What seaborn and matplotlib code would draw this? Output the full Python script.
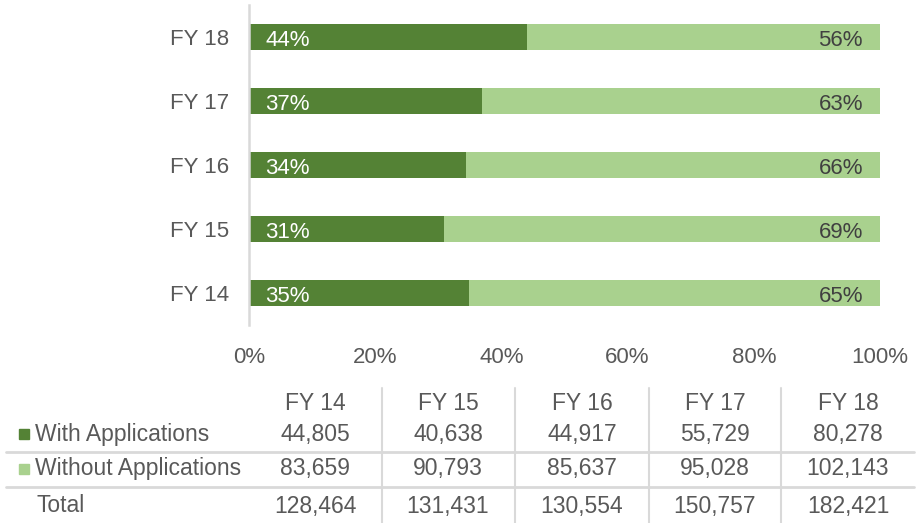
import numpy as np
import pandas as pd
import seaborn as sns
import matplotlib.pyplot as plt
from matplotlib.patches import Rectangle

# data
years = ['FY 14', 'FY 15', 'FY 16', 'FY 17', 'FY 18']
with_apps = [44805, 40638, 44917, 55729, 80278]
without_apps = [83659, 90793, 85637, 95028, 102143]
totals = [128464, 131431, 130554, 150757, 182421]
series_names = ['With Applications', 'Without Applications']
x_ticks = [0, 20, 40, 60, 80, 100]

dark = '#548235'
light = '#A9D18E'
grey = '#595959'
rule = '#D9D9D9'

df = pd.DataFrame({'year': years, 'with': with_apps, 'without': without_apps, 'total': totals})
df['pct_with'] = df['with'] / df['total'] * 100
df['pct_without'] = df['without'] / df['total'] * 100
df['stack'] = df['pct_with'] + df['pct_without']
order = years[::-1]

sns.set_theme(style='white')
plt.rcParams['font.family'] = ['Liberation Sans', 'DejaVu Sans']

fig = plt.figure(figsize=(9.2, 5.23), dpi=100)
ax = fig.add_axes([249 / 920, 1 - 325 / 523, 631 / 920, 320 / 523])

sns.barplot(data=df, x='stack', y='year', order=order, color=light, width=0.41,
            saturation=1, orient='h', linewidth=0, ax=ax)
sns.barplot(data=df, x='pct_with', y='year', order=order, color=dark, width=0.41,
            saturation=1, orient='h', linewidth=0, ax=ax)

for i, yr in enumerate(order):
    row = df[df['year'] == yr].iloc[0]
    ax.text(2.6, i + 0.145, f"{row['pct_with']:.0f}%", ha='left', va='baseline',
            color='white', fontsize=16)
    ax.text(97.3, i + 0.145, f"{row['pct_without']:.0f}%", ha='right', va='baseline',
            color='#404040', fontsize=16)

ax.set_xlim(0, 100)
ax.set_ylim(4.5, -0.5)
ax.set_xticks(x_ticks)
ax.set_xticklabels([f'{t}%' for t in x_ticks])
ax.set_xlabel('')
ax.set_ylabel('')
ax.tick_params(axis='x', length=0, pad=16, labelsize=16, labelcolor=grey)
ax.tick_params(axis='y', length=0, pad=14, labelsize=16, labelcolor=grey)
sns.despine(ax=ax, left=False, bottom=True, top=True, right=True)
ax.spines['left'].set_color(rule)
ax.spines['left'].set_linewidth(1.8)
ax.grid(False)

# data table under the chart, drawn in pixel space
tab = fig.add_axes([0, 0, 1, 1])
tab.set_xlim(0, 920)
tab.set_ylim(523, 0)
tab.axis('off')

fs = 16.5
col_centers = [315, 448, 582, 715, 848]
for xv in [382, 515, 649, 781]:
    tab.plot([xv, xv], [388, 523], color=rule, lw=1.5)
for yv in [452, 487]:
    tab.plot([6, 914], [yv, yv], color=rule, lw=2)

for xc, yr in zip(col_centers, years):
    tab.text(xc, 403, yr, ha='center', va='center', fontsize=fs, color=grey)

rows = [(series_names[0], with_apps, dark, 434),
        (series_names[1], without_apps, light, 469),
        ('Total', totals, None, 506)]
for name, vals, col, yc in rows:
    if col is not None:
        tab.add_patch(Rectangle((19, yc - 5), 10, 10, color=col))
        tab.text(35, yc, name, ha='left', va='center', fontsize=fs, color=grey)
    else:
        tab.text(37, yc, name, ha='left', va='center', fontsize=fs, color=grey)
    for xc, v in zip(col_centers, vals):
        tab.text(xc, yc, f'{v:,}', ha='center', va='center', fontsize=fs, color=grey)

fig.savefig('out.png', dpi=100)
